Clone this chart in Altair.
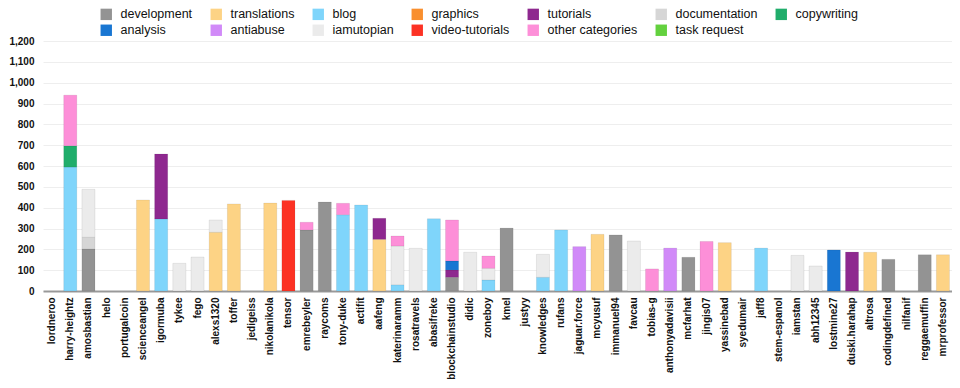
import altair as alt
import pandas as pd

users = ["lordneroo", "harry-heightz", "amosbastian", "helo", "portugalcoin",
         "scienceangel", "igormuba", "tykee", "fego", "alexs1320",
         "toffer", "jedigeiss", "nikolanikola", "tensor", "emrebeyler",
         "raycoms", "tony-duke", "actifit", "aafeng", "katerinaramm",
         "rosatravels", "abasifreke", "blockchainstudio", "didic", "zoneboy",
         "kmel", "justyy", "knowledges", "rufans", "jaguar.force",
         "mcyusuf", "immanuel94", "favcau", "tobias-g", "anthonyadavisii",
         "mcfarhat", "jingis07", "yassinebad", "syedumair", "jaff8",
         "stem-espanol", "iamstan", "abh12345", "lostmine27", "duski.harahap",
         "altrosa", "codingdefined", "nilfanif", "reggaemuffin", "mrprofessor"]

categories = ["development", "translations", "blog", "graphics", "tutorials",
              "documentation", "copywriting", "analysis", "antiabuse",
              "iamutopian", "video-tutorials", "other categories", "task request"]

colors = ["#939393", "#fdd385", "#7fd5fb", "#f98f2e", "#8e288f",
          "#d6d6d6", "#20ad6b", "#1976d2", "#d18af8",
          "#ebebeb", "#fc3224", "#fd8fd8", "#63d13e"]

# values per category, aligned with users
development = [0, 0, 202, 0, 0, 0, 0, 0, 0, 0,
               0, 0, 0, 0, 293, 427, 0, 0, 0, 0,
               0, 0, 66, 0, 0, 302, 0, 0, 0, 0,
               0, 269, 0, 0, 0, 162, 0, 0, 0, 0,
               0, 0, 0, 0, 0, 0, 152, 0, 174, 0]
translations = [0, 0, 0, 0, 0, 437, 0, 0, 0, 282,
                418, 0, 422, 0, 0, 0, 0, 0, 248, 0,
                0, 0, 0, 0, 0, 0, 0, 0, 0, 0,
                272, 0, 0, 0, 0, 0, 0, 232, 0, 0,
                0, 0, 0, 0, 0, 186, 0, 0, 0, 174]
blog = [0, 595, 0, 0, 0, 0, 346, 0, 0, 0,
        0, 0, 0, 0, 0, 0, 366, 413, 0, 30,
        0, 347, 0, 0, 53, 0, 0, 66, 293, 0,
        0, 0, 0, 0, 0, 0, 0, 0, 0, 206,
        0, 0, 0, 0, 0, 0, 0, 0, 0, 0]
graphics = [0] * 50
tutorials = [0, 0, 0, 0, 0, 0, 312, 0, 0, 0,
             0, 0, 0, 0, 0, 0, 0, 0, 101, 0,
             0, 0, 35, 0, 0, 0, 0, 0, 0, 0,
             0, 0, 0, 0, 0, 0, 0, 0, 0, 0,
             0, 0, 0, 0, 187, 0, 0, 0, 0, 0]
documentation = [0, 0, 56, 0, 0, 0, 0, 0, 0, 0,
                 0, 0, 0, 0, 0, 0, 0, 0, 0, 0,
                 0, 0, 0, 0, 0, 0, 0, 0, 0, 0,
                 0, 0, 0, 0, 0, 0, 0, 0, 0, 0,
                 0, 0, 0, 0, 0, 0, 0, 0, 0, 0]
copywriting = [0, 102, 0, 0, 0, 0, 0, 0, 0, 0,
               0, 0, 0, 0, 0, 0, 0, 0, 0, 0,
               0, 0, 0, 0, 0, 0, 0, 0, 0, 0,
               0, 0, 0, 0, 0, 0, 0, 0, 0, 0,
               0, 0, 0, 0, 0, 0, 0, 0, 0, 0]
analysis = [0, 0, 0, 0, 0, 0, 0, 0, 0, 0,
            0, 0, 0, 0, 0, 0, 0, 0, 0, 0,
            0, 0, 43, 0, 0, 0, 0, 0, 0, 0,
            0, 0, 0, 0, 0, 0, 0, 0, 0, 0,
            0, 0, 0, 197, 0, 0, 0, 0, 0, 0]
antiabuse = [0, 0, 0, 0, 0, 0, 0, 0, 0, 0,
             0, 0, 0, 0, 0, 0, 0, 0, 0, 0,
             0, 0, 0, 0, 0, 0, 0, 0, 0, 213,
             0, 0, 0, 0, 206, 0, 0, 0, 0, 0,
             0, 0, 0, 0, 0, 0, 0, 0, 0, 0]
iamutopian = [0, 0, 230, 0, 0, 0, 0, 133, 163, 59,
              0, 0, 0, 0, 0, 0, 0, 0, 0, 186,
              205, 0, 0, 186, 56, 0, 0, 110, 0, 0,
              0, 0, 240, 0, 0, 0, 0, 0, 0, 0,
              0, 171, 120, 0, 0, 0, 0, 0, 0, 0]
video_tutorials = [0, 0, 0, 0, 0, 0, 0, 0, 0, 0,
                   0, 0, 0, 435, 0, 0, 0, 0, 0, 0,
                   0, 0, 0, 0, 0, 0, 0, 0, 0, 0,
                   0, 0, 0, 0, 0, 0, 0, 0, 0, 0,
                   0, 0, 0, 0, 0, 0, 0, 0, 0, 0]
other_categories = [0, 243, 0, 0, 0, 0, 0, 0, 0, 0,
                    0, 0, 0, 0, 37, 0, 55, 0, 0, 48,
                    0, 0, 197, 0, 59, 0, 0, 0, 0, 0,
                    0, 0, 0, 106, 0, 0, 238, 0, 0, 0,
                    0, 0, 0, 0, 0, 0, 0, 0, 0, 0]
task_request = [0] * 50

series = [development, translations, blog, graphics, tutorials, documentation,
          copywriting, analysis, antiabuse, iamutopian, video_tutorials,
          other_categories, task_request]

y_ticks = list(range(0, 1201, 100))

rows = []
for ci, (cat, vals) in enumerate(zip(categories, series)):
    for u, v in zip(users, vals):
        if v > 0:
            rows.append({"user": u, "category": cat, "value": v, "idx": ci})
df = pd.DataFrame(rows)

font = "Liberation Sans"

chart = alt.Chart(df).mark_bar(stroke="#000000", strokeOpacity=0.07, strokeWidth=1).encode(
    x=alt.X("user:N", sort=users,
            scale=alt.Scale(domain=users, paddingInner=0.28, paddingOuter=0.14),
            axis=alt.Axis(title=None, labelAngle=-90, labelFontSize=10, labelFontWeight="bold",
                          labelColor="#111111", labelFont=font, ticks=False,
                          domainColor="#999999", domainWidth=2, labelPadding=6,
                          labelBaseline="middle", labelAlign="right")),
    y=alt.Y("value:Q", stack="zero",
            scale=alt.Scale(domain=[0, 1200], nice=False),
            axis=alt.Axis(title=None, values=y_ticks, format=",d",
                          labelFontSize=10, labelFontWeight="bold", labelColor="#111111",
                          labelFont=font, ticks=False, domain=False, gridColor="#eeeeee",
                          labelPadding=9)),
    color=alt.Color("category:N",
                    scale=alt.Scale(domain=categories, range=colors),
                    legend=alt.Legend(title=None, orient="none", legendX=57, legendY=-33,
                                      columns=7, direction="horizontal",
                                      symbolType="square", symbolSize=130,
                                      symbolStrokeWidth=0, labelFontSize=12.5,
                                      labelFont=font, labelColor="#111111",
                                      labelFontWeight="normal",
                                      columnPadding=17, rowPadding=3, labelOffset=8)),
    order=alt.Order("idx:Q", sort="ascending"),
    tooltip=["user", "category", "value"],
).properties(
    width=909, height=250,
    autosize=alt.AutoSizeParams(type="none"),
    padding={"left": 35, "top": 33, "right": 0, "bottom": 89},
).configure_view(stroke=None)

chart.save("out.html", embed_options={"renderer": "svg", "actions": False})
